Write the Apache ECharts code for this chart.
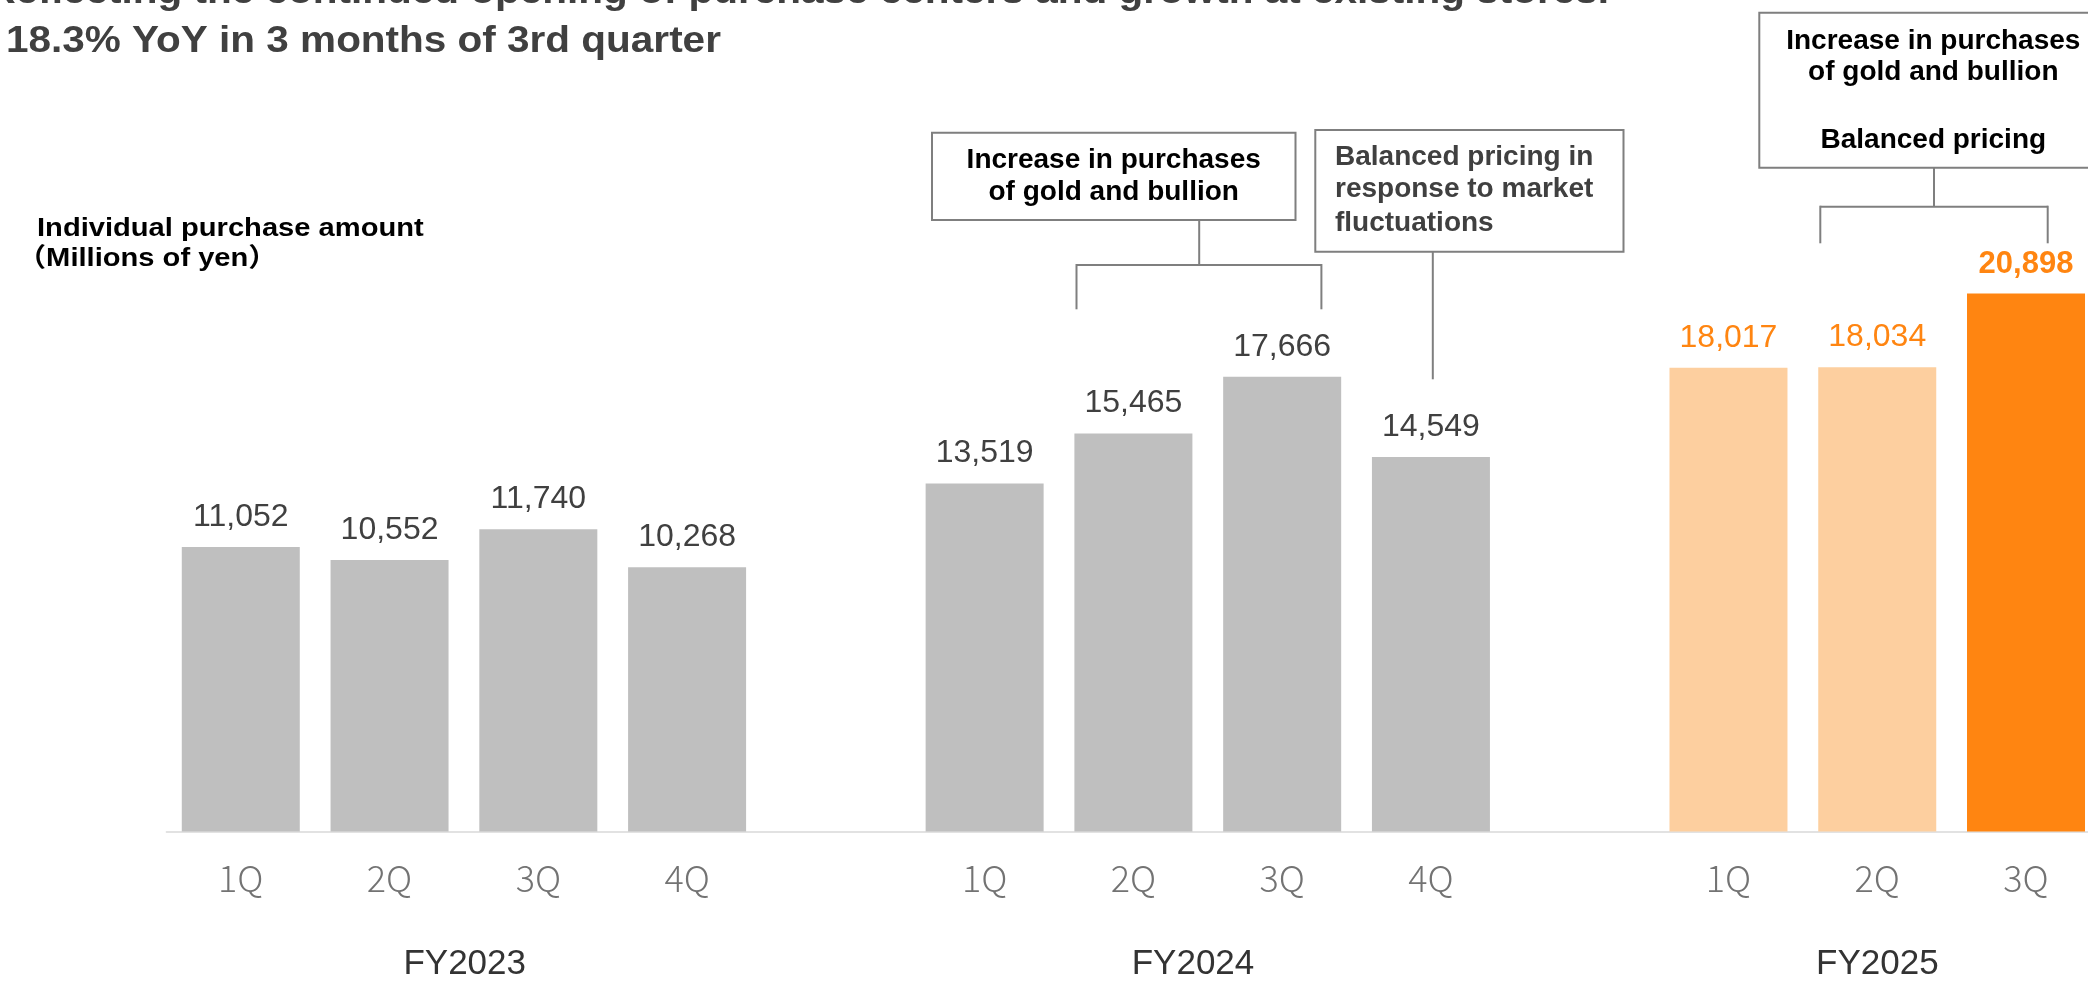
<!DOCTYPE html>
<html>
<head>
<meta charset="utf-8">
<title>Individual purchase amount</title>
<script src="https://cdn.jsdelivr.net/npm/echarts@6/dist/echarts.min.js"></script>
<style>
  html, body { margin: 0; padding: 0; background: #ffffff; }
  #chart { width: 2088px; height: 981px; }
</style>
</head>
<body>
<div id="chart"></div>
<script>
// Quarterly individual purchase amount (millions of yen)
const fiscalYears = ['FY2023', 'FY2024', 'FY2025'];
const quarterLabels = ['1Q', '2Q', '3Q', '4Q'];
const fy2023 = [11052, 10552, 11740, 10268];
const fy2024 = [13519, 15465, 17666, 14549];
const fy2025 = [18017, 18034, 20898];
const groups = [fy2023, fy2024, fy2025];

// Palette
const GREY_BAR = '#BFBFBF';
const LIGHT_ORANGE = '#FDCF9F';
const ORANGE = '#FF8511';
const LABEL_GREY = '#404040';
const LINE_GREY = '#7F7F7F';
const FONT = '"Liberation Sans", Arial, "Noto Sans CJK JP", sans-serif';

// Build categories and bar items; one empty slot separates fiscal years
const categories = [];
const barItems = [];
groups.forEach((vals, g) => {
  vals.forEach((v, q) => {
    categories.push(quarterLabels[q]);
    const current = g === groups.length - 1;
    const latest = current && q === vals.length - 1;
    barItems.push({
      value: v,
      itemStyle: { color: current ? (latest ? ORANGE : LIGHT_ORANGE) : GREY_BAR },
      label: {
        color: current ? ORANGE : LABEL_GREY,
        fontWeight: latest ? 'bold' : 'normal',
        fontSize: latest ? 31 : 32
      }
    });
  });
  if (g < groups.length - 1) {
    categories.push('');
    barItems.push({ value: '-' });
  }
});

const chart = echarts.init(document.getElementById('chart'), null, { renderer: 'canvas' });

function txt(x, y, text, opts) {
  opts = opts || {};
  return {
    type: 'text',
    x: x, y: y,
    scaleX: opts.scaleX || 1,
    silent: true,
    style: {
      x: 0, y: 0,
      text: text,
      font: (opts.weight || 'normal') + ' ' + (opts.size || 28) + 'px ' + FONT,
      fill: opts.color || '#000000',
      align: opts.align || 'left',
      verticalAlign: 'middle'
    }
  };
}
// place text by its baseline (Arial-style metrics)
function txtB(x, baseline, text, opts) {
  const size = (opts && opts.size) || 28;
  return txt(x, baseline - 0.3465 * size, text, opts);
}
function line(x1, y1, x2, y2) {
  return {
    type: 'line', silent: true,
    shape: { x1: x1, y1: y1, x2: x2, y2: y2 },
    style: { stroke: LINE_GREY, lineWidth: 2 }
  };
}
function box(x, y, w, h) {
  return {
    type: 'rect', silent: true,
    shape: { x: x, y: y, width: w, height: h },
    style: { fill: '#ffffff', stroke: LINE_GREY, lineWidth: 2 }
  };
}

const titleOpts = { size: 36, weight: 'bold', color: '#404040', scaleX: 1.125 };
const graphics = [
  // headline
  txtB(1609, 6, 'Reflecting the continued opening of purchase centers and growth at existing stores.',
       Object.assign({}, titleOpts, { align: 'right' })),
  txtB(6, 55, '18.3% YoY in 3 months of 3rd quarter', titleOpts),

  // value axis caption
  txtB(37, 237.5, 'Individual purchase amount', { size: 26, weight: 'bold', scaleX: 1.12 }),
  txtB(17, 268.3, '（Millions of yen）', { size: 26, weight: 'bold', scaleX: 1.12 }),

  // FY2024 annotation: gold and bullion
  box(932, 132.7, 363.5, 87.3),
  txtB(1113.7, 170, 'Increase in purchases', { weight: 'bold', align: 'center' }),
  txtB(1113.7, 201.7, 'of gold and bullion', { weight: 'bold', align: 'center' }),
  line(1199.2, 220, 1199.2, 265),
  line(1076.5, 265, 1321.4, 265),
  line(1076.5, 264, 1076.5, 309.3),
  line(1321.4, 264, 1321.4, 309.3),

  // FY2024 annotation: pricing
  box(1315.3, 130, 308.2, 121.7),
  txtB(1335, 166.7, 'Balanced pricing in', { weight: 'bold', color: '#404040' }),
  txtB(1335, 199.3, 'response to market', { weight: 'bold', color: '#404040' }),
  txtB(1335, 232.7, 'fluctuations', { weight: 'bold', color: '#404040' }),
  line(1432.8, 251.7, 1432.8, 379.3),

  // FY2025 annotation
  box(1759.3, 12.7, 360, 155),
  txtB(1933.3, 50.7, 'Increase in purchases', { weight: 'bold', align: 'center' }),
  txtB(1933.3, 81.7, 'of gold and bullion', { weight: 'bold', align: 'center' }),
  txtB(1933.3, 150, 'Balanced pricing', { weight: 'bold', align: 'center' }),
  line(1934, 167.7, 1934, 206.7),
  line(1820.3, 206.7, 2047.7, 206.7),
  line(1820.3, 205.7, 1820.3, 243.3),
  line(2047.7, 205.7, 2047.7, 243.3),

  // fiscal year captions
  txtB(464.7, 976.7, fiscalYears[0], { size: 35, color: '#333333', align: 'center' }),
  txtB(1193, 976.7, fiscalYears[1], { size: 35, color: '#333333', align: 'center' }),
  txtB(1877.3, 976.7, fiscalYears[2], { size: 35, color: '#333333', align: 'center' })
];

chart.setOption({
  animation: false,
  backgroundColor: '#ffffff',
  grid: {
    left: 166.4, top: 188, width: 1934, bottom: 149.5,
    containLabel: false,
    outerBoundsMode: 'none'
  },
  xAxis: {
    type: 'category',
    data: categories,
    axisTick: { show: false },
    axisLine: { lineStyle: { color: '#D9D9D9', width: 1.5 } },
    axisLabel: {
      interval: 0,
      margin: 29,
      fontSize: 36,
      fontWeight: 300,
      color: '#737373',
      fontFamily: '"Noto Sans CJK JP", "Noto Sans", sans-serif'
    }
  },
  yAxis: {
    type: 'value',
    min: 0,
    max: 25000,
    show: false,
    splitLine: { show: false }
  },
  series: [{
    type: 'bar',
    data: barItems,
    barWidth: 118,
    label: {
      show: true,
      position: 'top',
      distance: 14,
      fontSize: 32,
      fontFamily: FONT,
      formatter: p => (typeof p.value === 'number' ? p.value.toLocaleString('en-US') : '')
    }
  }],
  graphic: graphics
});
</script>
</body>
</html>
